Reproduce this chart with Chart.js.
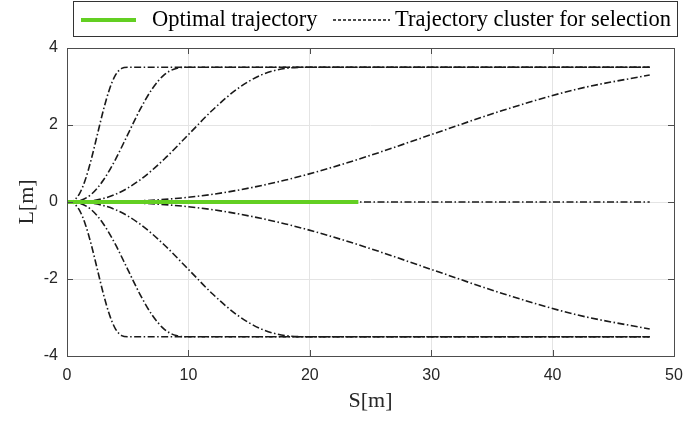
<!DOCTYPE html>
<html>
<head>
<meta charset="utf-8">
<script src="https://cdn.jsdelivr.net/npm/chart.js@4.4.1/dist/chart.umd.min.js"></script>
<style>
  html, body { margin: 0; padding: 0; background: #fff; }
  #wrap { width: 684px; height: 425px; }
</style>
</head>
<body>
<div id="wrap"><canvas id="chart" width="684" height="425"></canvas></div>
<script>
// lateral offset profile (same shape for each lane change)
const lProfile = [0, 0.03, 0.20, 0.57, 1.11, 1.75, 2.39, 2.93, 3.30, 3.47, 3.5, 3.5];
// station values for each candidate
const sShort = [0, 0.5, 1, 1.5, 2, 2.5, 3, 3.5, 4, 4.5, 5, 48];
const sMid = [0, 1, 2, 3, 4, 5, 6, 7, 8, 9, 10, 48];
const sLong = [0, 2, 4, 6, 8, 10, 12, 14, 16, 18, 20, 48];
const sSlow = [0, 6, 12, 18, 24, 30, 36, 42, 48];
const lSlow = [0, 0.03, 0.20, 0.57, 1.11, 1.75, 2.39, 2.93, 3.30];
const sStraight = [0, 48];
const lStraight = [0, 0];
const sOptimal = [0, 24];
const lOptimal = [0, 0];

const xTicks = [0, 10, 20, 30, 40, 50];
const yTicks = [-4, -2, 0, 2, 4];

const legendLabels = ['Optimal trajectory', 'Trajectory cluster for selection'];

const GREEN = '#63cf22';
const DASH = [7, 2.5, 1.5, 2.5];

function pts(xs, ys, sign) {
    return xs.map((x, i) => ({ x: x, y: sign * ys[i] }));
}

function cluster(xs, ys, sign) {
    return {
        label: legendLabels[1],
        data: pts(xs, ys, sign),
        borderColor: '#1a1a1a',
        borderWidth: 1.6,
        borderDash: DASH,
        pointRadius: 0,
        cubicInterpolationMode: 'monotone',
        fill: false
    };
}

const datasets = [
    {
        label: legendLabels[0],
        data: pts(sOptimal, lOptimal, 1),
        borderColor: GREEN,
        borderWidth: 4,
        pointRadius: 0,
        fill: false
    },
    cluster(sStraight, lStraight, 1),
    cluster(sShort, lProfile, 1),
    cluster(sMid, lProfile, 1),
    cluster(sLong, lProfile, 1),
    cluster(sSlow, lSlow, 1),
    cluster(sShort, lProfile, -1),
    cluster(sMid, lProfile, -1),
    cluster(sLong, lProfile, -1),
    cluster(sSlow, lSlow, -1)
];

// box round the plot, inward ticks, and a boxed legend like the original
const framePlugin = {
    id: 'frame',
    afterDraw(chart) {
        const ctx = chart.ctx;
        const a = chart.chartArea;
        const xs = chart.scales.x, ys = chart.scales.y;
        ctx.save();
        ctx.strokeStyle = '#4d4d4d';
        ctx.lineWidth = 1;
        ctx.setLineDash([]);
        ctx.strokeRect(Math.round(a.left) + 0.5, Math.round(a.top) + 0.5,
            Math.round(a.right - a.left), Math.round(a.bottom - a.top));
        ctx.beginPath();
        xTicks.forEach(v => {
            const px = Math.round(xs.getPixelForValue(v)) + 0.5;
            ctx.moveTo(px, a.bottom); ctx.lineTo(px, a.bottom - 6);
            ctx.moveTo(px, a.top); ctx.lineTo(px, a.top + 6);
        });
        yTicks.forEach(v => {
            const py = Math.round(ys.getPixelForValue(v)) + 0.5;
            ctx.moveTo(a.left, py); ctx.lineTo(a.left + 6, py);
            ctx.moveTo(a.right, py); ctx.lineTo(a.right - 6, py);
        });
        ctx.stroke();

        // legend
        const box = { left: 73, top: 1, right: 677, bottom: 36 };
        ctx.fillStyle = '#fff';
        ctx.fillRect(box.left, box.top, box.right - box.left, box.bottom - box.top);
        ctx.strokeStyle = '#333';
        ctx.strokeRect(box.left + 0.5, box.top + 0.5, box.right - box.left, box.bottom - box.top);
        const midY = 20;
        ctx.font = '22.5px "Liberation Serif", "Times New Roman", serif';
        ctx.fillStyle = '#000';
        ctx.textBaseline = 'middle';

        ctx.strokeStyle = GREEN;
        ctx.lineWidth = 4;
        ctx.beginPath(); ctx.moveTo(81, midY); ctx.lineTo(136, midY); ctx.stroke();
        ctx.fillText(legendLabels[0], 152, midY);

        ctx.strokeStyle = '#111';
        ctx.lineWidth = 1.3;
        ctx.setLineDash([3, 2]);
        ctx.beginPath(); ctx.moveTo(333, midY); ctx.lineTo(390, midY); ctx.stroke();
        ctx.setLineDash([]);
        ctx.textAlign = 'right';
        ctx.fillText(legendLabels[1], 671, midY);
        ctx.restore();
    }
};

new Chart(document.getElementById('chart'), {
    type: 'line',
    data: { datasets: datasets },
    options: {
        responsive: false,
        animation: false,
        parsing: false,
        layout: { padding: { left: 0, right: 0, top: 48, bottom: 0 } },
        plugins: {
            legend: { display: false },
            tooltip: { enabled: false }
        },
        scales: {
            x: {
                type: 'linear',
                min: 0, max: 50,
                afterBuildTicks: s => { s.ticks = xTicks.map(v => ({ value: v })); },
                afterFit: s => { s.height = 69; s.paddingRight = 10; },
                grid: { color: '#e4e4e4', drawTicks: false },
                border: { display: false },
                ticks: {
                    padding: 10,
                    color: '#262626',
                    font: { family: '"Liberation Sans", Arial, sans-serif', size: 16 }
                },
                title: {
                    display: true,
                    text: 'S[m]',
                    color: '#262626',
                    padding: { top: 0, bottom: 11 },
                    font: { family: '"Liberation Serif", "Times New Roman", serif', size: 22 }
                }
            },
            y: {
                type: 'linear',
                min: -4, max: 4,
                afterBuildTicks: s => { s.ticks = yTicks.map(v => ({ value: v })); },
                afterFit: s => { s.width = 67; },
                grid: { color: '#e4e4e4', drawTicks: false },
                border: { display: false },
                ticks: {
                    padding: 9,
                    color: '#262626',
                    font: { family: '"Liberation Sans", Arial, sans-serif', size: 16 }
                },
                title: {
                    display: true,
                    text: 'L[m]',
                    color: '#262626',
                    padding: { top: 14, bottom: 0 },
                    font: { family: '"Liberation Serif", "Times New Roman", serif', size: 22 }
                }
            }
        }
    },
    plugins: [framePlugin]
});
</script>
</body>
</html>
